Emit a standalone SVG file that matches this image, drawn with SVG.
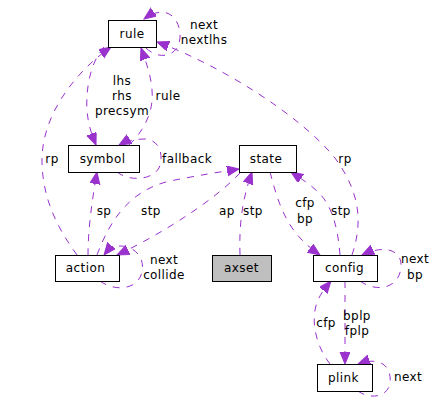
<svg xmlns="http://www.w3.org/2000/svg" width="437" height="408" viewBox="0 0 437 408">
<style>
.box{fill:#ffffff;stroke:#000000;stroke-width:1}
.focus{fill:#bfbfbf;stroke:#000000;stroke-width:1}
.nt{font-family:"DejaVu Sans",sans-serif;font-size:12px;text-anchor:middle;fill:#000000;letter-spacing:0.4px}
.lb{font-family:"DejaVu Sans",sans-serif;font-size:12px;text-anchor:middle;fill:#000000;letter-spacing:0.4px}
.e{fill:none;stroke:#9a32cd;stroke-width:1;stroke-dasharray:7,7;marker-end:url(#ah)}
</style>
<defs>
<marker id="ah" markerUnits="userSpaceOnUse" markerWidth="14" markerHeight="11" refX="12" refY="5" orient="auto">
<path d="M0,0 L12,5 L0,10 z" fill="#9a32cd" stroke="#9a32cd" stroke-width="1"/>
</marker>
</defs>
<rect width="437" height="408" fill="#ffffff"/>
<g id="connectors">
<path class="e" d="M146,48 C158,60 178,58 180,38 C181,20 168,2 144,19"/>
<path class="e" d="M352,255 C362,225 362,195 335,158 C300,115 220,65 157,42"/>
<path class="e" d="M104,47 C88,65 86,95 87,110 C88,125 92,135 96,145"/>
<path class="e" d="M129,145 C145,130 154,110 152,90 C151,75 146,62 141,48"/>
<path class="e" d="M117,172 C130,182 152,180 159,168 C164,155 160,140 145,139 C135,139 126,141 119,145"/>
<path class="e" d="M77,255 C55,225 42,195 42,160 C42,115 75,72 111,47"/>
<path class="e" d="M88,255 C88,230 92,200 97,172"/>
<path class="e" d="M97,255 C110,220 130,190 170,181 C200,175 220,172 239,169"/>
<path class="e" d="M240,173 C215,200 160,235 117,255"/>
<path class="e" d="M100,281 C115,292 138,290 142,272 C145,258 135,246 120,246 C113,246 108,250 104,255"/>
<path class="e" d="M240,255 C239,225 242,200 252,172"/>
<path class="e" d="M270,172 C276,195 282,215 295,232 C302,241 310,248 320,255"/>
<path class="e" d="M340,255 C338,228 332,205 318,192 C310,184 300,178 291,172"/>
<path class="e" d="M360,281 C375,292 398,290 401,268 C403,250 385,244 362,255"/>
<path class="e" d="M330,364 C315,345 310,318 318,300 C321,293 326,287 331,281"/>
<path class="e" d="M345,281 L345,364"/>
<path class="e" d="M358,391 C370,400 388,397 390,383 C392,366 380,356 358,364"/>
</g>
<g id="edge-labels">
<text class="lb" x="204" y="29">next</text>
<text class="lb" x="204" y="44">nextlhs</text>
<text class="lb" x="122" y="85">lhs</text>
<text class="lb" x="122" y="100">rhs</text>
<text class="lb" x="122" y="115">precsym</text>
<text class="lb" x="168" y="100">rule</text>
<text class="lb" x="52" y="163">rp</text>
<text class="lb" x="187" y="163">fallback</text>
<text class="lb" x="104" y="215">sp</text>
<text class="lb" x="151" y="215">stp</text>
<text class="lb" x="227" y="215">ap</text>
<text class="lb" x="253" y="215">stp</text>
<text class="lb" x="305" y="207">cfp</text>
<text class="lb" x="305" y="223">bp</text>
<text class="lb" x="341" y="215">stp</text>
<text class="lb" x="345" y="163">rp</text>
<text class="lb" x="164" y="264">next</text>
<text class="lb" x="164" y="279">collide</text>
<text class="lb" x="415" y="263">next</text>
<text class="lb" x="415" y="279">bp</text>
<text class="lb" x="357" y="320">bplp</text>
<text class="lb" x="357" y="335">fplp</text>
<text class="lb" x="326" y="327">cfp</text>
<text class="lb" x="408" y="381">next</text>
</g>
<g id="rule"><rect class="box" x="108.5" y="20.5" width="48" height="27"/><text class="nt" x="132" y="37.5">rule</text></g>
<g id="symbol"><rect class="box" x="68.5" y="145.5" width="71" height="27"/><text class="nt" x="102.5" y="162.5">symbol</text></g>
<g id="state"><rect class="box" x="239.5" y="145.5" width="57" height="27"/><text class="nt" x="266" y="162.5">state</text></g>
<g id="action"><rect class="box" x="55.5" y="255.5" width="64" height="26"/><text class="nt" x="85.5" y="272">action</text></g>
<g id="axset"><rect class="focus" x="212.5" y="255.5" width="59" height="26"/><text class="nt" x="241.5" y="272">axset</text></g>
<g id="config"><rect class="box" x="313.5" y="255.5" width="64" height="26"/><text class="nt" x="344.5" y="272">config</text></g>
<g id="plink"><rect class="box" x="317.5" y="364.5" width="55" height="27"/><text class="nt" x="343.5" y="381.5">plink</text></g>
</svg>
